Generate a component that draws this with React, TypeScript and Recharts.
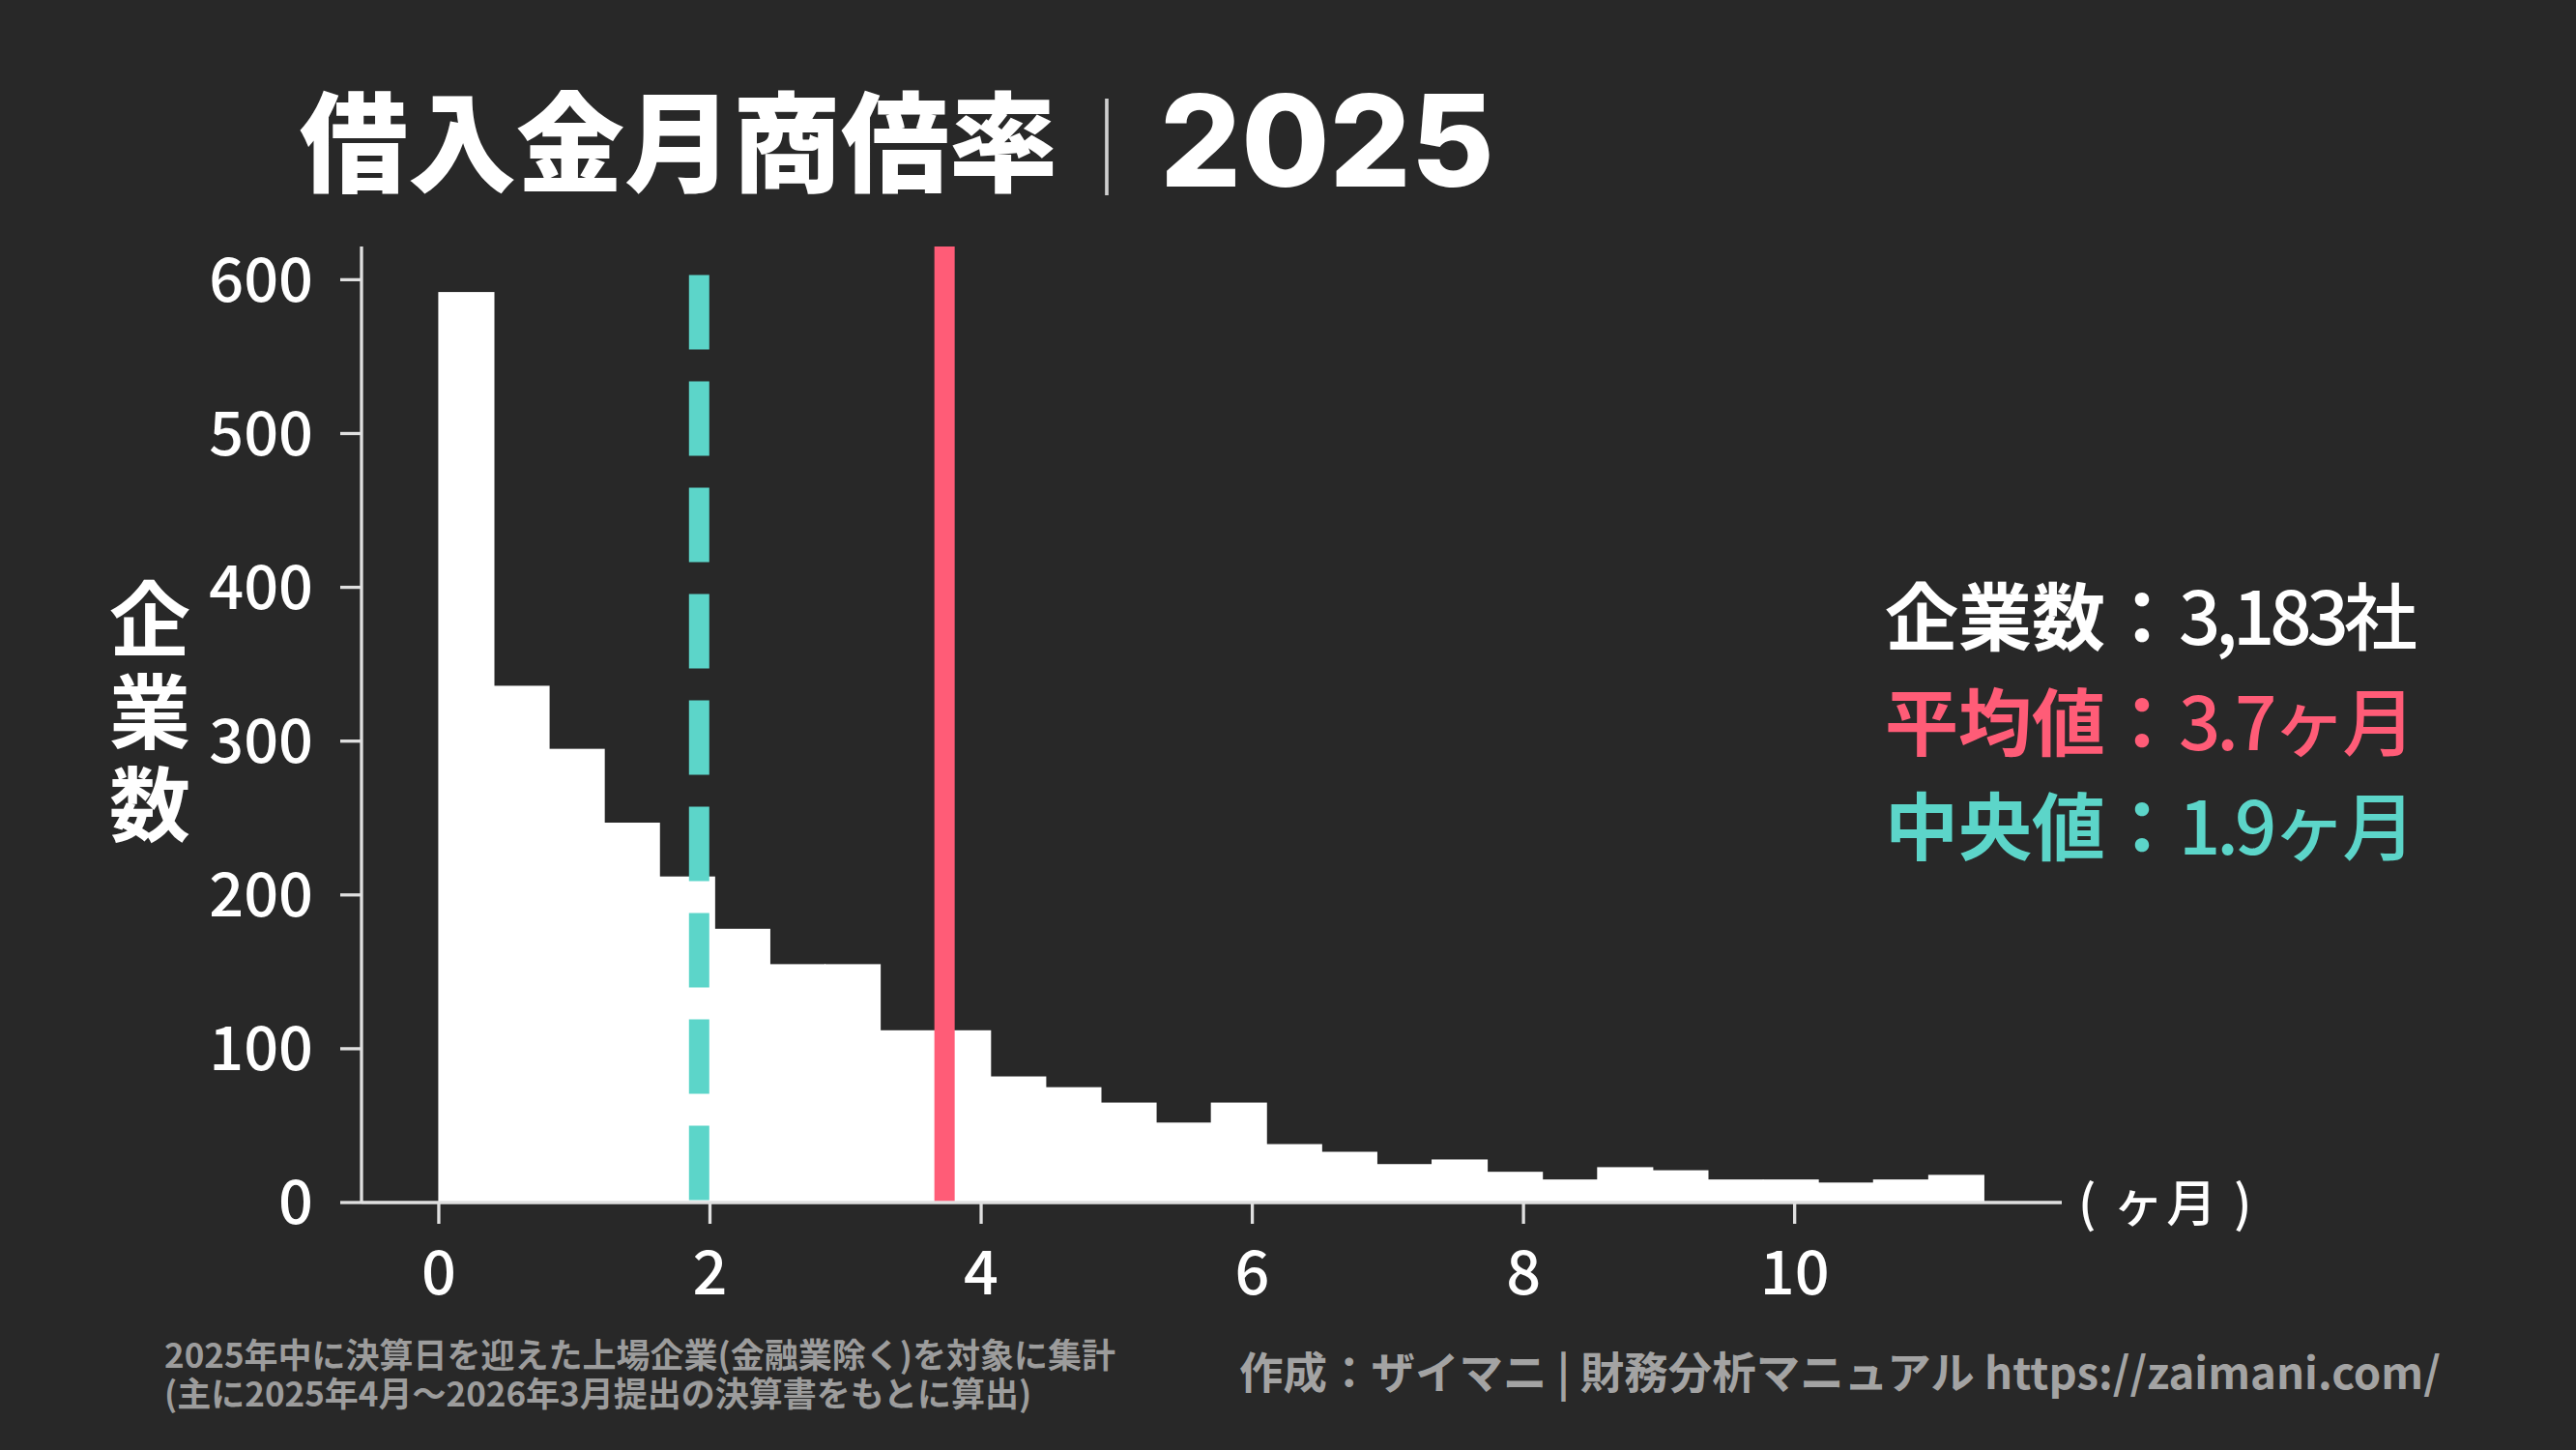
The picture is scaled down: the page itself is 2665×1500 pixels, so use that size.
import React from "react";
import { ComposedChart, Bar, XAxis, YAxis, ReferenceLine } from "recharts";

// ---- data ----
const binWidth = 0.407; // months per histogram bin
const counts = [592, 336, 295, 247, 212, 178, 155, 155, 112, 112, 82, 75, 65, 52, 65, 38, 33, 25, 28, 20, 15, 23, 21, 15, 15, 13, 15, 18];
const xTicks = [0, 2, 4, 6, 8, 10];
const yTicks = [0, 100, 200, 300, 400, 500, 600];
const meanValue = 3.73;
const medianValue = 1.92;
const companyCount = "3,183社";
const meanLabel = "3.7ヶ月";
const medianLabel = "1.9ヶ月";
const noteLines = [
  "2025年中に決算日を迎えた上場企業(金融業除く)を対象に集計",
  "(主に2025年4月～2026年3月提出の決算書をもとに算出)",
];

const data = counts.map((c, i) => ({ x: (i + 0.5) * binWidth, count: c }));

// ---- layout ----
const W = 2665;
const H = 1500;
const BG = "#282828";
const PINK = "#ff5c77";
const TEAL = "#5cd5c9";
const AXIS = "#e0e0e0";
const FONT = "'Noto Sans CJK JP', 'Noto Sans', sans-serif";
const xDomain: [number, number] = [-0.57, 11.97];
const yDomain: [number, number] = [0, 621.6];
const margin = { top: 255, right: 532, bottom: 136, left: 0 };
const yAxisWidth = 374;
const xAxisHeight = 120;
const plotW = W - margin.left - margin.right - yAxisWidth;
const barPx = (plotW / (xDomain[1] - xDomain[0])) * binWidth;

// histogram bar: centred on the bar slot that recharts computed, full bin width (no gaps)
const HistBar = (props: any) => {
  const { x, y, width, height } = props;
  if (height == null || height <= 0) return null;
  const cx = x + width / 2;
  return <rect x={cx - barPx / 2 - 0.5} y={y} width={barPx + 1} height={height} fill="#ffffff" />;
};

export default function App() {
  return (
    <div style={{ position: "absolute", left: 0, top: 0, width: W, height: H, background: BG, overflow: "hidden" }}>
      <ComposedChart width={W} height={H} data={data} margin={margin} barCategoryGap={0} barGap={0}>
        <XAxis
          type="number"
          dataKey="x"
          domain={xDomain}
          ticks={xTicks}
          allowDataOverflow
          height={xAxisHeight}
          axisLine={{ stroke: AXIS, strokeWidth: 3.3 }}
          tickLine={{ stroke: AXIS, strokeWidth: 3.3 }}
          tickSize={22}
          tickMargin={28}
          tick={{ fill: "#ffffff", fontSize: 63, fontFamily: FONT, fontWeight: 500 }}
        />
        <YAxis
          type="number"
          domain={yDomain}
          ticks={yTicks}
          allowDataOverflow
          width={yAxisWidth}
          axisLine={{ stroke: AXIS, strokeWidth: 3.3 }}
          tickLine={{ stroke: AXIS, strokeWidth: 3.3 }}
          tickSize={22}
          tickMargin={28}
          tick={{ fill: "#ffffff", fontSize: 63, fontFamily: FONT, fontWeight: 500 }}
        />
        <Bar dataKey="count" fill="#ffffff" shape={HistBar} isAnimationActive={false} />
        <ReferenceLine
          segment={[{ x: medianValue, y: 603 }, { x: medianValue, y: 0 }]}
          stroke={TEAL}
          strokeWidth={21}
          strokeDasharray="77 33"
          ifOverflow="visible"
        />
        <ReferenceLine x={meanValue} stroke={PINK} strokeWidth={21} ifOverflow="visible" />
      </ComposedChart>

      <svg width={W} height={H} style={{ position: "absolute", left: 0, top: 0, pointerEvents: "none" }}>
        {/* title */}
        <text y={190} fill="#ffffff" fontFamily={FONT}>
          <tspan x={310} fontSize={112} fontWeight={900}>借入金月商倍率</tspan>
          <tspan x={1095} fontSize={100} fontWeight={100} fill="#cfcfcf">｜</tspan>
          <tspan x={1200} y={193} fontSize={132} fontWeight={800} fontFamily="Inter, 'Liberation Sans', sans-serif">2025</tspan>
        </text>

        {/* y axis label (vertical writing) */}
        <text
          x={155}
          y={598}
          fill="#ffffff"
          fontFamily={FONT}
          fontSize={84}
          fontWeight={700}
          letterSpacing={12}
          style={{ writingMode: "vertical-rl" as any }}
        >
          企業数
        </text>

        {/* x axis unit label */}
        <text x={2150} y={1264} fill="#ffffff" fontFamily={FONT} fontSize={52} fontWeight={500} letterSpacing={3}>( ヶ月 )</text>

        {/* stats block */}
        <text x={1950} y={667} fill="#ffffff" fontFamily={FONT} fontSize={76}>
          <tspan fontWeight={700}>企業数：</tspan>
          <tspan fontWeight={500} letterSpacing={-5}>{companyCount}</tspan>
        </text>
        <text x={1950} y={776} fill={PINK} fontFamily={FONT} fontSize={76}>
          <tspan fontWeight={700}>平均値：</tspan>
          <tspan fontWeight={500} letterSpacing={-4}>{meanLabel}</tspan>
        </text>
        <text x={1950} y={884} fill={TEAL} fontFamily={FONT} fontSize={76}>
          <tspan fontWeight={700}>中央値：</tspan>
          <tspan fontWeight={500} letterSpacing={-4}>{medianLabel}</tspan>
        </text>

        {/* credit */}
        <text x={1282} y={1437} fill="#a3a3a3" fontFamily={FONT} fontSize={45.5} fontWeight={700}>
          作成：ザイマニ | 財務分析マニュアル https://zaimani.com/
        </text>
      </svg>

      {/* source note (two lines) */}
      <div
        style={{
          position: "absolute",
          left: 170,
          top: 1380,
          color: "#9c9c9c",
          fontFamily: FONT,
          fontSize: 35,
          fontWeight: 700,
          lineHeight: "40px",
          whiteSpace: "pre",
        }}
      >
        {noteLines.join("\n")}
      </div>
    </div>
  );
}
